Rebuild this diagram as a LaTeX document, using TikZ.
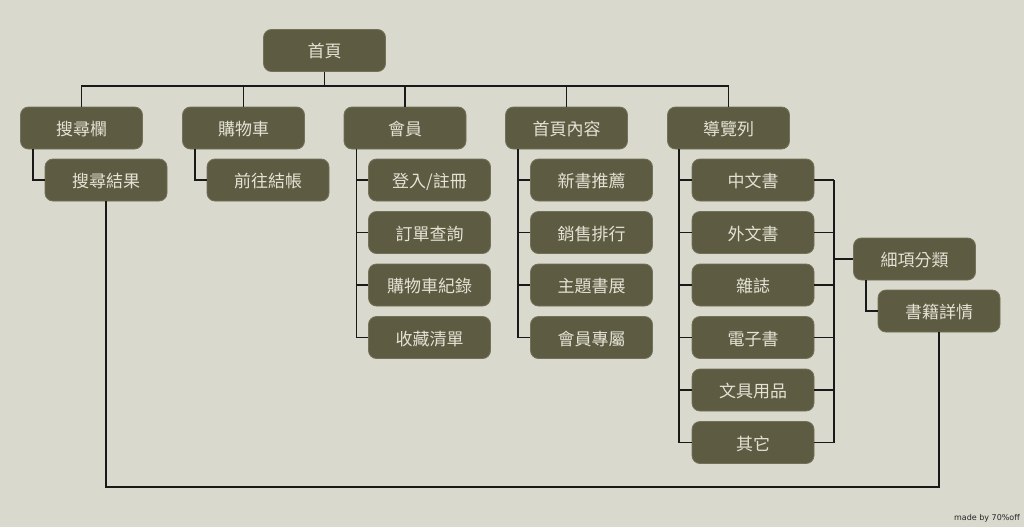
\documentclass[tikz,border=0pt]{standalone}
\usepackage{fontspec}
\newfontfamily\cjkfont{Noto Sans CJK TC}
\newfontfamily\creditfont{DejaVu Sans}
\definecolor{bg}{HTML}{D9D9CD}
\definecolor{boxfill}{HTML}{5D5C43}
\definecolor{boxline}{HTML}{737159}
\definecolor{boxtext}{HTML}{E4E2D4}
\tikzset{
  box/.style={draw=boxline, fill=boxfill, rounded corners=8pt, line width=0.8pt,
    minimum width=122pt, minimum height=42pt, inner sep=0pt, text=boxtext,
    text height=16pt, text depth=1pt,
    font=\cjkfont\fontsize{17}{17}\selectfont},
  link/.style={line width=1.6pt, black!90}
}
\begin{document}
\begin{tikzpicture}[x=1pt,y=-1pt]
    \fill[bg] (0,0) rectangle (1024,527);
    \useasboundingbox (0,0) rectangle (1024,527);
    \node[box] (home) at (324.5,50.5) {首頁};
    \node[box] (search) at (81.5,128) {搜尋欄};
    \node[box] (cart) at (243.5,128) {購物車};
    \node[box] (member) at (405,128) {會員};
    \node[box] (content) at (566.5,128) {首頁內容};
    \node[box] (nav) at (728.5,128) {導覽列};
    \node[box] (result) at (106,180) {搜尋結果};
    \node[box] (checkout) at (268,180) {前往結帳};
    \node[box] (login) at (429.5,180) {登入/註冊};
    \node[box] (orders) at (429.5,232.5) {訂單查詢};
    \node[box] (history) at (429.5,285) {購物車紀錄};
    \node[box] (wishlist) at (429.5,337.5) {收藏清單};
    \node[box] (newbooks) at (591.5,180) {新書推薦};
    \node[box] (ranking) at (591.5,232.5) {銷售排行};
    \node[box] (themes) at (591.5,285) {主題書展};
    \node[box] (members) at (591.5,337.5) {會員專屬};
    \node[box] (chinese) at (753,180) {中文書};
    \node[box] (foreign) at (753,232.5) {外文書};
    \node[box] (magazine) at (753,285) {雜誌};
    \node[box] (ebook) at (753,337.5) {電子書};
    \node[box] (stationery) at (753,390) {文具用品};
    \node[box] (other) at (753,442.5) {其它};
    \node[box] (subcat) at (914.5,259) {細項分類};
    \node[box] (detail) at (939,311) {書籍詳情};
    \node[font=\creditfont\fontsize{8}{8}\selectfont, text=black!85] (credit) at (987,518) {made by 70\%off};
    \coordinate (bus) at (0,86);
    \coordinate (navbus) at (834,0);
    \coordinate (loop) at (0,487);
    \draw[link] (home.south) to (home.south |- bus);
    \draw[link] (search.north) |- (nav.north |- bus) to (nav.north);
    \foreach \n in {cart,member,content}
        \draw[link] (\n.north) to (\n.north |- bus);
    \draw[link] ([xshift=13pt]search.south west) |- (result.west);
    \draw[link] ([xshift=13pt]cart.south west) |- (checkout.west);
    \foreach \n in {login,orders,history,wishlist}
        \draw[link] ([xshift=13pt]member.south west) |- (\n.west);
    \foreach \n in {newbooks,ranking,themes,members}
        \draw[link] ([xshift=13pt]content.south west) |- (\n.west);
    \foreach \n in {chinese,foreign,magazine,ebook,stationery,other} {
        \draw[link] ([xshift=12pt]nav.south west) |- (\n.west);
        \draw[link] (\n.east) to (\n.east -| navbus);
    }
    \draw[link] (chinese.east -| navbus) to (other.east -| navbus);
    \draw[link] (navbus |- subcat.west) to (subcat.west);
    \draw[link] ([xshift=13pt]subcat.south west) |- (detail.west);
    \draw[link] (detail.south) to (detail.south |- loop) -| (result.south);
\end{tikzpicture}
\end{document}
